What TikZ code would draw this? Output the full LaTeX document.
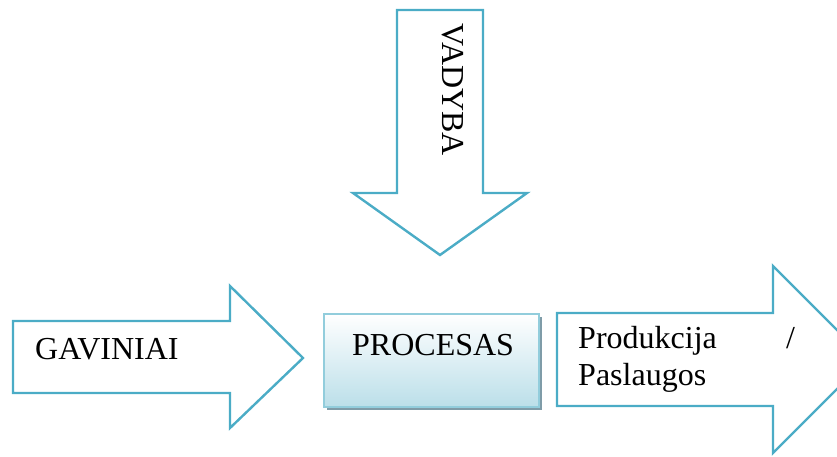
\documentclass[tikz,border=0pt]{standalone}
\usepackage{fontspec}
\setmainfont{Liberation Serif}
\usetikzlibrary{shadows}
\definecolor{arrowblue}{HTML}{4BACC6}
\definecolor{boxedge}{HTML}{92CDDC}
\definecolor{boxshade}{HTML}{BBDFE9}
\definecolor{shadowgray}{HTML}{7F9CA8}
\begin{document}
\begin{tikzpicture}[x=1pt,y=-1pt,
  blockarrow/.style={draw=arrowblue,line width=2.4pt,fill=white,line join=miter},
  label/.style={inner sep=0pt,font=\fontsize{32}{37}\selectfont}]
\useasboundingbox (0,0) rectangle (837,457);
\clip (0,0) rectangle (837,457);

% input arrow
\draw[blockarrow] (13,321) -- (230,321) -- (230,286) -- (303,358) -- (230,428)
  -- (230,393) -- (13,393) -- cycle;
% management arrow from above
\draw[blockarrow] (397,10) -- (483,10) -- (483,193) -- (527,193) -- (440,255)
  -- (353,193) -- (397,193) -- cycle;
% output arrow
\draw[blockarrow] (557,313) -- (773,313) -- (773,266) -- (866.5,359.5) -- (773,453)
  -- (773,406) -- (557,406) -- cycle;

% process box with drop shadow
\fill[shadowgray] (327,317) rectangle (542,410);
\shade[top color=white,bottom color=boxshade] (324,314) rectangle (539,407);
\draw[boxedge,line width=1.6pt] (324,314) rectangle (539,407);

\node[label,anchor=base west] (gav) at (35,359) {GAVINIAI};
\node[label,anchor=base west] (proc) at (352,355) {PROCESAS};
\node[label,anchor=base west,rotate=-90] (vad) at (442,23) {VADYBA};
\node[label,anchor=base west] (prod) at (578,348) {Produkcija};
\node[label,anchor=base west] (slash) at (786,348) {/};
\node[label,anchor=base west] (pasl) at (578,385) {Paslaugos};
\end{tikzpicture}
\end{document}
